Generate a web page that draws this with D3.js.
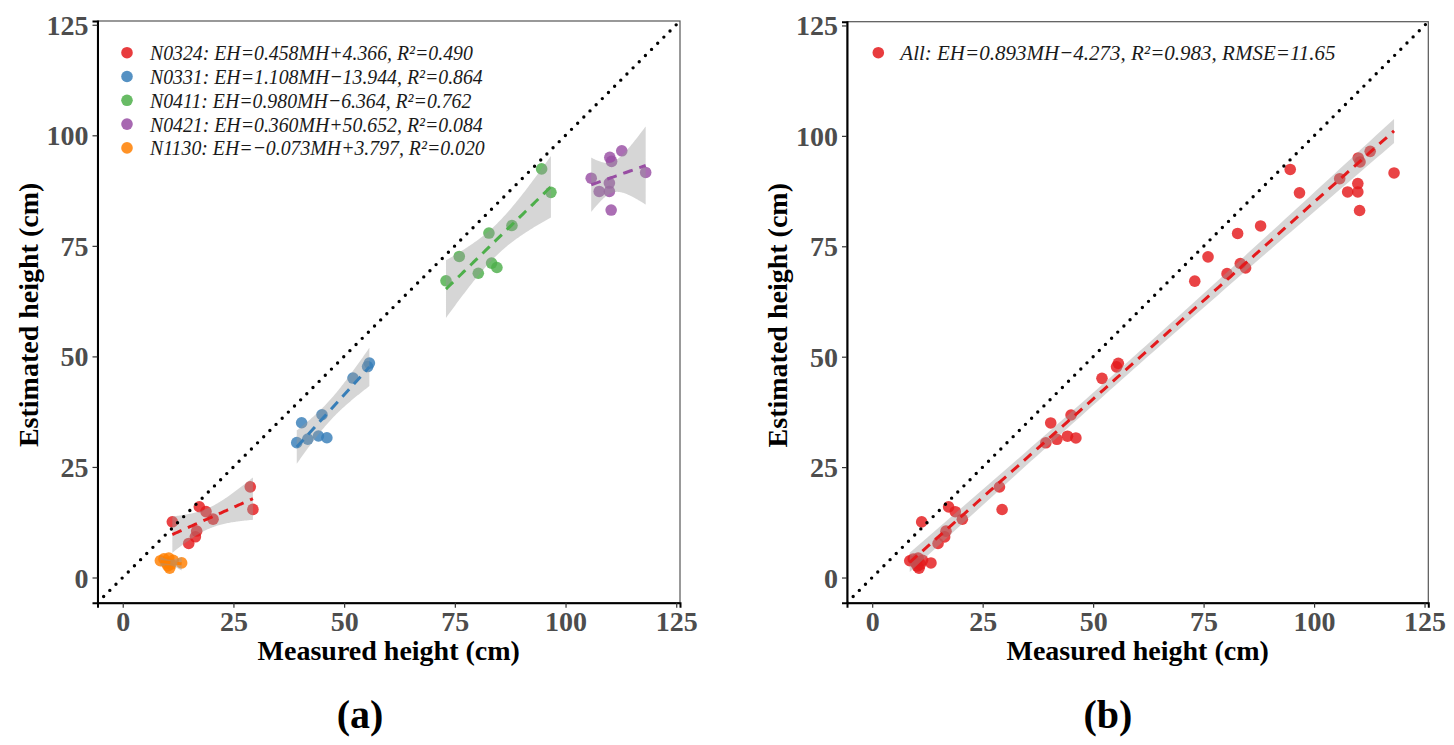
<!DOCTYPE html>
<html>
<head>
<meta charset="utf-8">
<script src="https://cdn.jsdelivr.net/npm/d3@7"></script>
<style>
  body { margin: 0; background: #fff; }
  svg { font-family: "Liberation Serif", "Times New Roman", serif; }
</style>
</head>
<body>
<svg id="chart" width="1454" height="745"></svg>
<script>
// groups (flight dates) and their measured / estimated heights in cm
const groups = ["N0324", "N0331", "N0411", "N0421", "N1130"];
const groupColors = ["#E41A1C", "#377EB8", "#4DAF4A", "#984EA3", "#FF7F00"];
const legendLabels = [
    "N0324: EH=0.458MH+4.366, R²=0.490",
    "N0331: EH=1.108MH−13.944, R²=0.864",
    "N0411: EH=0.980MH−6.364, R²=0.762",
    "N0421: EH=0.360MH+50.652, R²=0.084",
    "N1130: EH=−0.073MH+3.797, R²=0.020"
];
const allLabel = "All: EH=0.893MH−4.273, R²=0.983, RMSE=11.65";

const measured = {
    N0324: [11.2, 17.3, 18.8, 20.4, 16.7, 16.4, 14.9, 28.8, 29.4],
    N0331: [40.4, 39.3, 41.8, 44.2, 46.1, 45.0, 52.0, 55.3, 55.7],
    N0411: [94.6, 96.7, 87.9, 82.7, 76.0, 73.0, 80.3, 83.3, 84.5],
    N0421: [112.7, 110.0, 110.4, 105.8, 118.1, 109.9, 109.9, 107.6, 110.3],
    N1130: [8.5, 9.3, 9.8, 10.2, 10.6, 10.9, 11.4, 10.4, 13.3]
};
const estimated = {
    N0324: [12.6, 16.0, 14.9, 13.2, 10.5, 9.2, 7.7, 20.5, 15.4],
    N0331: [35.0, 30.5, 31.3, 32.0, 31.6, 36.8, 45.1, 47.7, 48.5],
    N0411: [92.4, 87.1, 79.6, 77.9, 72.6, 67.1, 68.8, 71.1, 70.1],
    N0421: [96.5, 95.0, 94.1, 90.3, 91.6, 89.2, 87.3, 87.3, 83.1],
    N1130: [3.8, 4.2, 3.3, 2.6, 2.1, 3.0, 3.9, 4.4, 3.3]
};
const tickValues = [0, 25, 50, 75, 100, 125];

const svg = d3.select("#chart");
const domain = [-5.7, 125.85];

// t quantile (0.975) for the confidence band
function tQuant(df) {
    const tab = {1: 12.706, 2: 4.303, 3: 3.182, 4: 2.776, 5: 2.571, 6: 2.447, 7: 2.365, 8: 2.306, 9: 2.262, 10: 2.228};
    return tab[df] || (1.96 + 2.4 / df);
}

// linear fit with 95% confidence ribbon, like geom_smooth(method = "lm")
function fitLm(xs, ys) {
    const n = xs.length;
    const mx = d3.mean(xs), my = d3.mean(ys);
    let sxx = 0, sxy = 0;
    xs.forEach((x, i) => { sxx += (x - mx) * (x - mx); sxy += (x - mx) * (ys[i] - my); });
    const b = sxy / sxx, a = my - b * mx;
    let sse = 0;
    xs.forEach((x, i) => { const r = ys[i] - (a + b * x); sse += r * r; });
    const s = Math.sqrt(sse / (n - 2));
    const t = tQuant(n - 2);
    const lo = d3.min(xs), hi = d3.max(xs);
    const pts = d3.range(0, 81).map(k => {
        const x = lo + (hi - lo) * k / 80;
        const yh = a + b * x;
        const se = s * Math.sqrt(1 / n + (x - mx) * (x - mx) / sxx);
        return {x: x, y: yh, y0: yh - t * se, y1: yh + t * se};
    });
    return pts;
}

function drawPanel(opts) {
    const x = d3.scaleLinear().domain(domain).range([opts.left, opts.right]);
    const y = d3.scaleLinear().domain(domain).range([opts.bottom, opts.top]);
    const g = svg.append("g");

    g.append("clipPath").attr("id", "clip-" + opts.id)
        .append("rect")
        .attr("x", opts.left).attr("y", opts.top)
        .attr("width", opts.right - opts.left).attr("height", opts.bottom - opts.top);

    const plot = g.append("g").attr("clip-path", "url(#clip-" + opts.id + ")");

    // points
    opts.series.forEach(function(s) {
        plot.selectAll(null)
            .data(s.xs.map((v, i) => [v, s.ys[i]]))
            .enter()
            .append("circle")
            .attr("cx", d => x(d[0]))
            .attr("cy", d => y(d[1]))
            .attr("r", 5.8)
            .attr("fill", s.color)
            .attr("fill-opacity", 0.82);
    });

    // ribbons + fitted lines
    opts.series.forEach(function(s) {
        const fit = fitLm(s.xs, s.ys);
        plot.append("path")
            .datum(fit)
            .attr("d", d3.area().x(d => x(d.x)).y0(d => y(d.y0)).y1(d => y(d.y1)))
            .attr("fill", "#999999")
            .attr("fill-opacity", 0.4);
        plot.append("path")
            .datum(fit)
            .attr("d", d3.line().x(d => x(d.x)).y(d => y(d.y)))
            .attr("fill", "none")
            .attr("stroke", s.color)
            .attr("stroke-width", 3)
            .attr("stroke-dasharray", "10,7");
    });

    // 1:1 line
    plot.append("path")
        .datum(domain)
        .attr("d", d3.line().x(d => x(d)).y(d => y(d)))
        .attr("stroke", "#000")
        .attr("stroke-width", 3.4)
        .attr("stroke-linecap", "round")
        .attr("stroke-dasharray", "0,8.7");

    // border
    g.append("rect")
        .attr("x", opts.left).attr("y", opts.top)
        .attr("width", opts.right - opts.left).attr("height", opts.bottom - opts.top)
        .attr("fill", "none").attr("stroke", "#555").attr("stroke-width", 1.2);

    // axes
    const ax = g.append("g")
        .attr("transform", "translate(0," + opts.bottom + ")")
        .call(d3.axisBottom(x).tickValues(tickValues).tickSize(5).tickPadding(3));
    const ay = g.append("g")
        .attr("transform", "translate(" + opts.left + ",0)")
        .call(d3.axisLeft(y).tickValues(tickValues).tickSize(5).tickPadding(4));
    [ax, ay].forEach(function(a) {
        a.select(".domain").attr("stroke", "#000").attr("stroke-width", 2);
        a.selectAll(".tick line").attr("stroke", "#333").attr("stroke-width", 1.2);
        a.selectAll("text")
            .attr("fill", "#4D4D4D")
            .style("font-family", "'Liberation Serif', serif")
            .style("font-weight", "bold")
            .style("font-size", "28px");
    });
    ay.selectAll("text").attr("dy", "0.34em");

    // titles
    g.append("text")
        .attr("x", (opts.left + opts.right) / 2).attr("y", 660)
        .attr("text-anchor", "middle")
        .style("font-weight", "bold").style("font-size", "28px")
        .text("Measured height (cm)");
    g.append("text")
        .attr("transform", "translate(" + (opts.left - 60) + "," + ((opts.top + opts.bottom) / 2 + 3) + ") rotate(-90)")
        .attr("text-anchor", "middle")
        .style("font-weight", "bold").style("font-size", "28px")
        .text("Estimated height (cm)");
    g.append("text")
        .attr("x", opts.tagX).attr("y", 728)
        .attr("text-anchor", "middle")
        .style("font-weight", "bold").style("font-size", "40px")
        .text(opts.tag);

    // legend
    opts.legend.forEach(function(l, i) {
        const ly = 52.7 + i * 23.8;
        const lx = opts.left + opts.legendDx;
        g.append("circle")
            .attr("cx", lx).attr("cy", ly)
            .attr("r", 5.8).attr("fill", l.color).attr("fill-opacity", 0.85);
        g.append("text")
            .attr("transform", "translate(" + (lx + opts.legendGap) + "," + (ly + 7.5) + ") scale(" + opts.legendScale + ",1)")
            .attr("fill", "#1a1a1a")
            .style("font-style", "italic").style("font-size", "22px")
            .text(l.label);
    });
}

const groupSeries = groups.map((gname, i) => ({
    xs: measured[gname], ys: estimated[gname], color: groupColors[i]
}));
drawPanel({
    id: "a", left: 97.5, right: 680, top: 21, bottom: 602.7,
    series: groupSeries, tag: "(a)", tagX: 360,
    legendDx: 29.5, legendGap: 23, legendScale: 0.9,
    legend: groups.map((gname, i) => ({label: legendLabels[i], color: groupColors[i]}))
});

const allX = groups.flatMap(gname => measured[gname]);
const allY = groups.flatMap(gname => estimated[gname]);
drawPanel({
    id: "b", left: 847, right: 1428.3, top: 21.7, bottom: 602.7,
    series: [{xs: allX, ys: allY, color: groupColors[0]}], tag: "(b)", tagX: 1108,
    legendDx: 31.3, legendGap: 22, legendScale: 0.955,
    legend: [{label: allLabel, color: groupColors[0]}]
});
</script>
</body>
</html>
